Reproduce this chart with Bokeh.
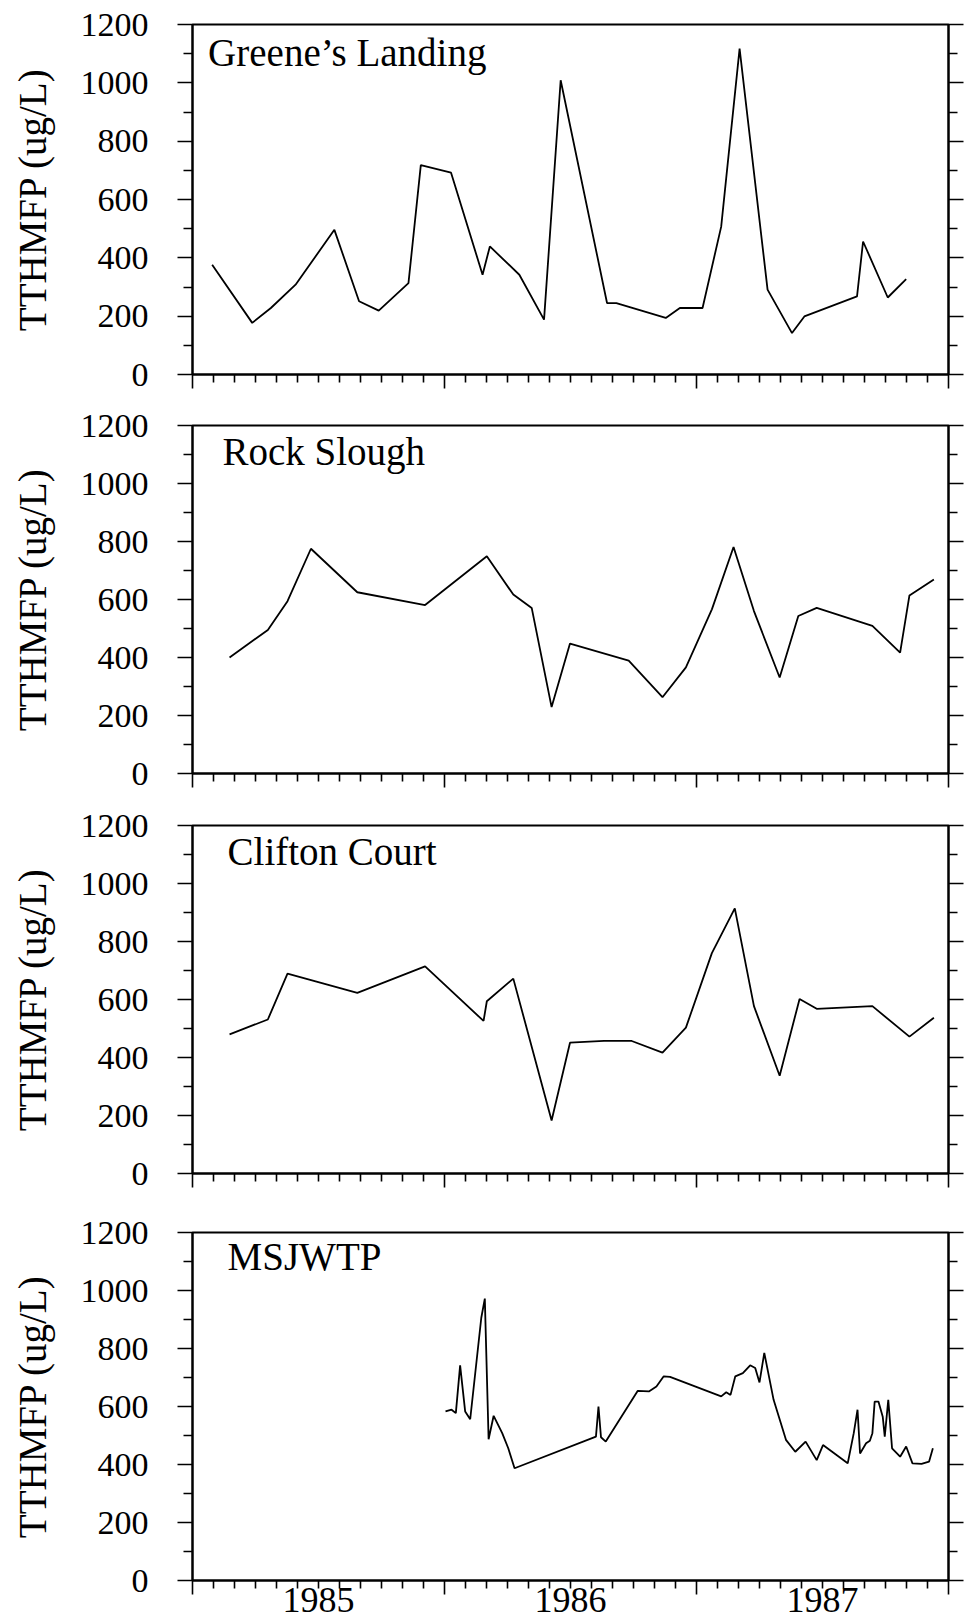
from bokeh.plotting import figure
from bokeh.layouts import column
from bokeh.models import LinearAxis, FixedTicker, Label, Range1d
from bokeh.embed import file_html
from bokeh.resources import INLINE

FONT = "Liberation Serif"

# ---------------- data (decimal year, TTHMFP ug/L) ----------------
greene_t = [1985.078, 1985.237, 1985.311, 1985.409, 1985.563, 1985.661, 1985.739,
            1985.857, 1985.906, 1986.026, 1986.151, 1986.180, 1986.297, 1986.395,
            1986.461, 1986.645, 1986.682, 1986.878, 1986.934, 1987.024, 1987.098,
            1987.171, 1987.282, 1987.379, 1987.428, 1987.637, 1987.661, 1987.759,
            1987.832]
greene_v = [376, 177, 228, 308, 496, 251, 219, 313, 718, 692, 342, 439, 342, 188,
            1009, 245, 245, 194, 228, 228, 507, 1117, 291, 142, 199, 268, 456, 264,
            327]

rock_t = [1985.147, 1985.299, 1985.377, 1985.470, 1985.654, 1985.923, 1986.168,
          1986.273, 1986.346, 1986.425, 1986.498, 1986.731, 1986.865, 1986.958,
          1987.061, 1987.147, 1987.228, 1987.330, 1987.404, 1987.477, 1987.698,
          1987.808, 1987.845, 1987.942]
rock_v = [400, 495, 594, 775, 625, 581, 749, 617, 571, 229, 448, 389, 263, 366,
          566, 781, 560, 331, 543, 571, 509, 417, 614, 669]

clifton_t = [1985.147, 1985.299, 1985.377, 1985.654, 1985.923, 1986.155, 1986.168,
             1986.273, 1986.425, 1986.498, 1986.633, 1986.743, 1986.865, 1986.958,
             1987.061, 1987.152, 1987.228, 1987.330, 1987.409, 1987.477, 1987.698,
             1987.845, 1987.942]
clifton_v = [480, 531, 689, 623, 714, 526, 594, 672, 183, 451, 457, 457, 417, 503,
             760, 914, 577, 337, 602, 568, 577, 472, 537]

msj_t = [1986.004, 1986.028, 1986.045, 1986.062, 1986.082, 1986.102, 1986.146,
         1986.160, 1986.175, 1986.195, 1986.229, 1986.253, 1986.278, 1986.601,
         1986.611, 1986.621, 1986.640, 1986.767, 1986.811, 1986.841, 1986.870,
         1986.895, 1987.098, 1987.118, 1987.135, 1987.154, 1987.184, 1987.213,
         1987.233, 1987.250, 1987.269, 1987.306, 1987.355, 1987.392, 1987.433,
         1987.477, 1987.502, 1987.600, 1987.624, 1987.639, 1987.649, 1987.673,
         1987.688, 1987.698, 1987.707, 1987.722, 1987.739, 1987.747, 1987.761,
         1987.776, 1987.808, 1987.832, 1987.857, 1987.893, 1987.923, 1987.938]
msj_v = [583, 589, 577, 742, 583, 556, 906, 972, 487, 568, 508, 456, 387, 496,
         600, 494, 479, 654, 652, 669, 704, 702, 635, 649, 640, 704, 715, 742,
         733, 683, 785, 623, 485, 444, 479, 415, 467, 404, 508, 589, 438, 473,
         482, 508, 617, 617, 565, 496, 623, 456, 427, 462, 404, 402, 410, 456]

station_names = ["Greene\u2019s Landing", "Rock Slough", "Clifton Court", "MSJWTP"]

year_ticks = [1985, 1986, 1987, 1988]
month_ticks = [1985 + k / 12 for k in range(1, 36) if k % 12]
year_labels = ["1985", "1986", "1987"]
year_label_x = [1985.5, 1986.5, 1987.5]
y_major = [0, 200, 400, 600, 800, 1000, 1200]
y_minor = [100, 300, 500, 700, 900, 1100]
y_title = "TTHMFP (ug/L)"

# ---------------- layout settings ----------------
panel_cfg = [
    # height, min_border_top, min_border_bottom, label x, label y
    (400, 24, 26, 1985.062, 1104),
    (400, 25, 27, 1985.119, 1110),
    (400, 25, 27, 1985.139, 1109),
    (422, 32, 42, 1985.139, 1116),
]


def hidden_labels(ax):
    ax.major_label_text_font_size = "1px"
    ax.major_label_text_color = None
    ax.major_label_standoff = 0


def make_panel(t, v, name, cfg, last):
    h, mt, mb, lx, ly = cfg
    p = figure(width=966, height=h, output_backend="svg", toolbar_location=None,
               x_range=Range1d(1985, 1988), y_range=Range1d(0, 1200),
               min_border_left=192, min_border_right=18,
               min_border_top=mt, min_border_bottom=mb,
               title=None, x_axis_location=None, y_axis_location=None)
    p.grid.grid_line_color = None
    p.outline_line_color = "black"
    p.outline_line_width = 2
    p.background_fill_color = "white"
    p.border_fill_color = "white"

    ya = LinearAxis(ticker=FixedTicker(ticks=y_major, minor_ticks=y_minor),
                    axis_label=y_title)
    ya.axis_line_width = 2
    ya.major_tick_in = 0
    ya.major_tick_out = 15
    ya.minor_tick_in = 0
    ya.minor_tick_out = 9
    ya.major_tick_line_width = 1.6
    ya.minor_tick_line_width = 1.6
    ya.major_label_text_font = FONT
    ya.major_label_text_font_size = "34px"
    ya.major_label_text_color = "black"
    ya.major_label_standoff = 29
    ya.axis_label_text_font = FONT
    ya.axis_label_text_font_size = "39px"
    ya.axis_label_text_font_style = "normal"
    ya.axis_label_text_color = "black"
    ya.axis_label_standoff = 24
    p.add_layout(ya, "left")

    ra = LinearAxis(ticker=FixedTicker(ticks=y_major, minor_ticks=y_minor))
    ra.axis_line_width = 2
    ra.major_tick_in = 0
    ra.major_tick_out = 15
    ra.minor_tick_in = 0
    ra.minor_tick_out = 9
    ra.major_tick_line_width = 1.6
    ra.minor_tick_line_width = 1.6
    hidden_labels(ra)
    p.add_layout(ra, "right")

    xa = LinearAxis(ticker=FixedTicker(ticks=year_ticks, minor_ticks=month_ticks))
    xa.axis_line_width = 2
    xa.major_tick_in = 0
    xa.major_tick_out = 14
    xa.minor_tick_in = 0
    xa.minor_tick_out = 8
    xa.major_tick_line_width = 1.6
    xa.minor_tick_line_width = 1.6
    hidden_labels(xa)
    p.add_layout(xa, "below")

    if last:
        la = LinearAxis(ticker=FixedTicker(ticks=year_label_x, minor_ticks=[]),
                        major_label_overrides=dict(zip(year_label_x, year_labels)))
        la.axis_line_color = None
        la.major_tick_line_color = None
        la.minor_tick_line_color = None
        la.major_tick_in = 0
        la.major_tick_out = 0
        la.minor_tick_in = 0
        la.minor_tick_out = 0
        la.major_label_text_font = FONT
        la.major_label_text_font_size = "36px"
        la.major_label_text_color = "black"
        la.major_label_standoff = -7
        p.add_layout(la, "below")

    p.line(t, v, line_color="black", line_width=1.8)

    p.add_layout(Label(x=lx, y=ly, text=name, text_font=FONT,
                       text_font_size="39px", text_color="black",
                       text_baseline="alphabetic", text_align="left"))
    return p


series = [(greene_t, greene_v), (rock_t, rock_v), (clifton_t, clifton_v), (msj_t, msj_v)]
panels = []
for i, ((t, v), name, cfg) in enumerate(zip(series, station_names, panel_cfg)):
    panels.append(make_panel(t, v, name, cfg, i == 3))

layout = column(*panels, spacing=0)
open("out.html", "w").write(file_html(layout, INLINE))
